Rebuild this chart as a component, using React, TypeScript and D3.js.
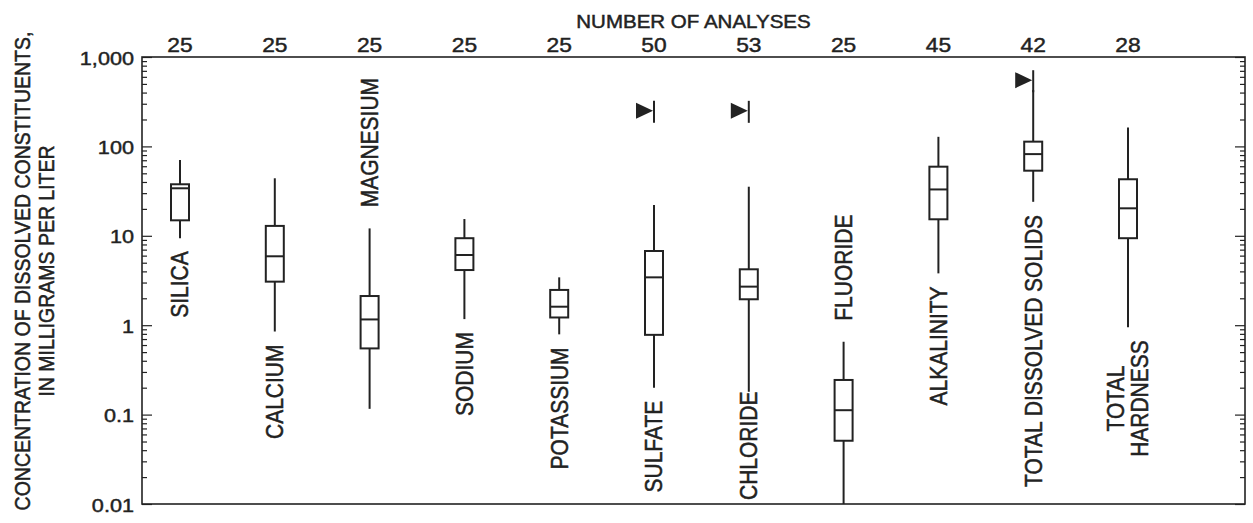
import * as d3 from 'd3';
import { useEffect, useRef } from 'react';

const WIDTH = 1253;
const HEIGHT = 523;
const FONT = '"Liberation Sans", Arial, Helvetica, sans-serif';
const INK = '#222';
// the scanned lettering is a little wider than the face we have
const TEXT_STRETCH = 1.14;

// Constituents, left to right
const categories = [
    'SILICA',
    'CALCIUM',
    'MAGNESIUM',
    'SODIUM',
    'POTASSIUM',
    'SULFATE',
    'CHLORIDE',
    'FLUORIDE',
    'ALKALINITY',
    'TOTAL DISSOLVED SOLIDS',
    'TOTAL HARDNESS',
];
const labelLines = [
    ['SILICA'],
    ['CALCIUM'],
    ['MAGNESIUM'],
    ['SODIUM'],
    ['POTASSIUM'],
    ['SULFATE'],
    ['CHLORIDE'],
    ['FLUORIDE'],
    ['ALKALINITY'],
    ['TOTAL DISSOLVED SOLIDS'],
    ['TOTAL', 'HARDNESS'],
];
// where the name sits relative to the whiskers
const labelSide = ['below', 'below', 'above', 'below', 'below', 'below', 'below', 'above', 'below', 'below', 'below'];
const analysisCounts = [25, 25, 25, 25, 25, 50, 53, 25, 45, 42, 28];

// mg/L
const minValues = [9.4, 0.85, 0.116, 1.17, 0.79, 0.2, 0.18, 0.01, 3.8, 24, 0.95];
const q1Values = [14.9, 3.07, 0.55, 4.14, 1.22, 0.78, 1.95, 0.051, 15.3, 53.5, 9.4];
const medianValues = [34, 5.9, 1.16, 6.1, 1.61, 3.43, 2.7, 0.112, 33, 82, 20.3];
const q3Values = [37.7, 12.9, 2.12, 9.4, 2.48, 6.76, 4.22, 0.244, 59.3, 113, 42.9];
const maxValues = [70.5, 44, 12.1, 15.4, 3.43, 22.1, 35.4, 0.653, 128, 427, 163];
// drinking-water limit markers (null = none)
const limitValues = [null, null, null, null, null, 250, 250, null, null, 550, null];

const yTickValues = [0.01, 0.1, 1, 10, 100, 1000];
const yTickLabels = ['0.01', '0.1', '1', '10', '100', '1,000'];
const yMinorTicks = [0.01, 0.1, 1, 10, 100].flatMap((d) => [2, 3, 4, 5, 6, 7, 8, 9].map((m) => d * m));

export default function App() {
    const svgRef = useRef(null);

    useEffect(() => {
        if (!svgRef.current) {
            return;
        }
        const svg = d3.select(svgRef.current);
        svg.selectAll('*').remove();

        const margin = { top: 57, right: 8, bottom: 19, left: 142 };
        const plotW = WIDTH - margin.left - margin.right;
        const plotH = HEIGHT - margin.top - margin.bottom;

        const y = d3.scaleLog().domain([0.01, 1000]).range([plotH, 0]);
        const x = d3.scalePoint().domain(categories).range([38, 986]);

        svg.append('rect').attr('width', WIDTH).attr('height', HEIGHT).attr('fill', '#fff');

        const inkText = (sel, size) =>
            sel
                .attr('font-family', FONT)
                .attr('font-size', size)
                .attr('fill', INK)
                .attr('stroke', INK)
                .attr('stroke-width', 0.45);

        // y axis title
        ['CONCENTRATION OF DISSOLVED CONSTITUENTS,', 'IN MILLIGRAMS PER LITER'].forEach((t, i) => {
            svg.append('text')
                .attr('transform', `translate(${30 + i * 24},271) rotate(-90) scale(1,${TEXT_STRETCH})`)
                .attr('text-anchor', 'middle')
                .call(inkText, 19.5)
                .text(t);
        });

        const g = svg.append('g').attr('transform', `translate(${margin.left},${margin.top})`);

        const styleAxis = (sel) => {
            sel.select('.domain').remove();
            sel.selectAll('line').attr('stroke', INK).attr('stroke-width', 1.2);
            sel.attr('font-family', null).attr('font-size', null);
        };

        // left axis, ticks pointing inward
        g.append('g')
            .call(
                d3
                    .axisLeft(y)
                    .tickValues(yTickValues)
                    .tickFormat((d, i) => yTickLabels[i])
                    .tickSizeInner(-10)
                    .tickSizeOuter(0)
                    .tickPadding(8),
            )
            .call(styleAxis)
            .call((sel) =>
                sel
                    .selectAll('text')
                    .attr('x', 0)
                    .attr('transform', `translate(-8,1) scale(${TEXT_STRETCH},1)`)
                    .call(inkText, 19),
            );
        g.append('g')
            .call(d3.axisLeft(y).tickValues(yMinorTicks).tickFormat(() => '').tickSizeInner(-5).tickSizeOuter(0))
            .call(styleAxis);

        // right axis mirrors it
        const right = g.append('g').attr('transform', `translate(${plotW},0)`);
        right
            .append('g')
            .call(d3.axisRight(y).tickValues(yTickValues).tickFormat(() => '').tickSizeInner(-10).tickSizeOuter(0))
            .call(styleAxis);
        right
            .append('g')
            .call(d3.axisRight(y).tickValues(yMinorTicks).tickFormat(() => '').tickSizeInner(-5).tickSizeOuter(0))
            .call(styleAxis);

        g.append('rect')
            .attr('width', plotW)
            .attr('height', plotH)
            .attr('fill', 'none')
            .attr('stroke', INK)
            .attr('stroke-width', 1.6);

        // top: number of analyses
        g.append('text')
            .attr('transform', `translate(${plotW / 2},-29) scale(${TEXT_STRETCH},1)`)
            .attr('text-anchor', 'middle')
            .call(inkText, 18)
            .text('NUMBER OF ANALYSES');

        g.append('g')
            .selectAll('text')
            .data(categories)
            .join('text')
            .attr('transform', (d) => `translate(${x(d)},-5) scale(${TEXT_STRETCH},1)`)
            .attr('text-anchor', 'middle')
            .call(inkText, 20)
            .text((d, i) => analysisCounts[i]);

        const boxW = 18;

        categories.forEach((cat, i) => {
            const cx = x(cat);
            const bg = g.append('g');

            bg.append('line')
                .attr('x1', cx)
                .attr('x2', cx)
                .attr('y1', y(maxValues[i]))
                .attr('y2', y(minValues[i]))
                .attr('stroke', INK)
                .attr('stroke-width', 2);

            bg.append('rect')
                .attr('x', cx - boxW / 2)
                .attr('y', y(q3Values[i]))
                .attr('width', boxW)
                .attr('height', y(q1Values[i]) - y(q3Values[i]))
                .attr('fill', '#fff')
                .attr('stroke', INK)
                .attr('stroke-width', 2);

            bg.append('line')
                .attr('x1', cx - boxW / 2)
                .attr('x2', cx + boxW / 2)
                .attr('y1', y(medianValues[i]))
                .attr('y2', y(medianValues[i]))
                .attr('stroke', INK)
                .attr('stroke-width', 2);

            const lim = limitValues[i];
            if (lim != null) {
                const ly = y(lim);
                bg.append('path')
                    .attr('d', `M${cx - 18},${ly - 8}L${cx - 1},${ly}L${cx - 18},${ly + 8}Z`)
                    .attr('fill', INK);
                bg.append('line')
                    .attr('x1', cx)
                    .attr('x2', cx)
                    .attr('y1', ly - 10)
                    .attr('y2', ly + 12)
                    .attr('stroke', INK)
                    .attr('stroke-width', 2);
            }

            // vertical category name
            const lines = labelLines[i];
            const texts = lines.map((t) =>
                bg
                    .append('text')
                    .attr('text-anchor', 'middle')
                    .attr('dy', '0.35em')
                    .call(inkText, 21)
                    .text(t),
            );
            const len = d3.max(texts, (t) => t.node().getComputedTextLength()) || 0;
            // keep names inside the frame
            const cy =
                labelSide[i] === 'below'
                    ? Math.min(y(minValues[i]) + 13 + len / 2, plotH - 4 - len / 2)
                    : y(maxValues[i]) - 21 - len / 2;
            texts.forEach((t, j) => {
                const tx = cx + (j - (lines.length - 1) / 2) * 24;
                t.attr('transform', `translate(${tx},${cy}) rotate(-90) scale(1,${TEXT_STRETCH})`);
            });
        });
    }, []);

    return (
        <svg
            ref={svgRef}
            width={WIDTH}
            height={HEIGHT}
            style={{ position: 'absolute', left: 0, top: 0, display: 'block' }}
        />
    );
}
